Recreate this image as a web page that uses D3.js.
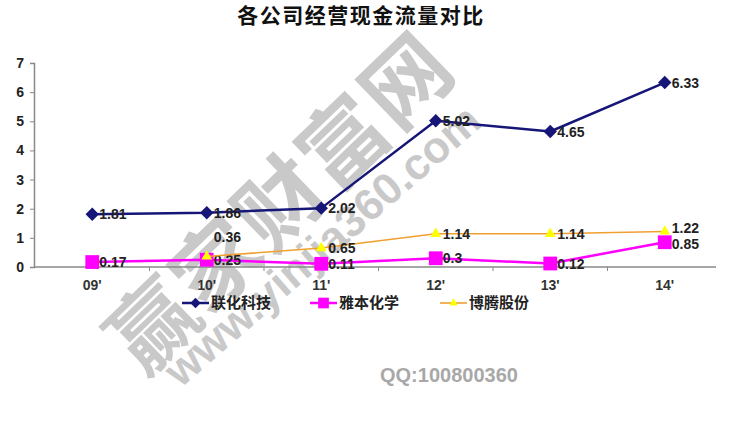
<!DOCTYPE html>
<html><head><meta charset="utf-8">
<script src="https://cdn.jsdelivr.net/npm/d3@7"></script>
<style>body{margin:0;background:#fff}svg{display:block}</style>
</head><body>
<svg id="c" width="730" height="422"></svg>
<script>
const title = "各公司经营现金流量对比";
const categories = ["09'", "10'", "11'", "12'", "13'", "14'"];
const yTicks = [0, 1, 2, 3, 4, 5, 6, 7];
const seriesNames = ["联化科技", "雅本化学", "博腾股份"];
const lianhua = [1.81, 1.86, 2.02, 5.02, 4.65, 6.33];
const yaben = [0.17, 0.25, 0.11, 0.3, 0.12, 0.85];
const boteng = [null, 0.36, 0.65, 1.14, 1.14, 1.22];
const watermark1 = "赢家财富网";
const watermark2 = "www.yinjia360.com";
const watermark3 = "QQ:100800360";

const svg = d3.select("#c");
const font = "Arial, 'Liberation Sans', 'Noto Sans CJK SC', sans-serif";
const cjk = "'Noto Sans CJK SC', sans-serif";

const x = d3.scaleBand().domain(categories).range([35, 722]);
const y = d3.scaleLinear().domain([0, 7]).range([267, 63]);
const cx = d => x(d) + x.bandwidth() / 2;

// watermark (behind)
const wm = svg.append("g").attr("fill", "#c9c9c9").attr("font-weight", "bold");
wm.append("text").attr("transform", "translate(276,198) rotate(-44)")
  .attr("text-anchor", "middle").attr("dominant-baseline", "central")
  .attr("font-family", cjk).attr("font-size", 86).attr("letter-spacing", 2).text(watermark1);
wm.append("text").attr("transform", "translate(322,245) rotate(-41)")
  .attr("text-anchor", "middle").attr("dominant-baseline", "central")
  .attr("font-family", font).attr("font-size", 44).text(watermark2);

// title
svg.append("text").attr("x", 361).attr("y", 23).attr("text-anchor", "middle")
  .attr("font-family", cjk).attr("font-weight", "bold").attr("font-size", 21)
  .attr("letter-spacing", 1.5).attr("fill", "#111").text(title);

// y axis
const yAxis = svg.append("g").attr("transform", "translate(34,0)")
  .call(d3.axisLeft(y).tickValues(yTicks).tickSize(4).tickPadding(6).tickFormat(d3.format("d")));
yAxis.select(".domain").attr("stroke", "#888").attr("stroke-width", 1.5);
yAxis.selectAll(".tick line").attr("stroke", "#888");
yAxis.selectAll("text").attr("font-family", font).attr("font-weight", "bold")
  .attr("font-size", 14).attr("fill", "#222");

// x axis
const xAxis = svg.append("g").attr("transform", "translate(0,267)")
  .call(d3.axisBottom(x).tickSize(0).tickPadding(13));
xAxis.select(".domain").attr("stroke", "#888").attr("stroke-width", 1.5)
  .attr("d", "M34,0H716");
xAxis.selectAll("text").attr("font-family", font).attr("font-weight", "bold")
  .attr("font-size", 14).attr("fill", "#333");
// category boundary ticks
svg.append("g").selectAll("line").data(categories.slice(1)).join("line")
  .attr("x1", d => x(d)).attr("x2", d => x(d)).attr("y1", 267).attr("y2", 271)
  .attr("stroke", "#888");

const series = [
  {name: seriesNames[0], values: lianhua, color: "#161679", width: 2.5, marker: "diamond", mfill: "#161679", msize: 90},
  {name: seriesNames[1], values: yaben, color: "#ff00ff", width: 2.5, marker: "square", mfill: "#ff00ff", msize: 190},
  {name: seriesNames[2], values: boteng, color: "#f0a030", width: 1.6, marker: "triangle", mfill: "#ffff00", msize: 50}
];
const sym = {diamond: d3.symbolSquare, square: d3.symbolSquare, triangle: d3.symbolTriangle};
const rot = {diamond: 45, square: 0, triangle: 0};

const line = d3.line().defined(d => d.v != null).x(d => cx(d.c)).y(d => y(d.v));

series.forEach((s, si) => {
  const pts = categories.map((c, i) => ({c, v: s.values[i], i}));
  svg.append("path").datum(pts).attr("d", line).attr("fill", "none")
    .attr("stroke", s.color).attr("stroke-width", s.width).attr("stroke-linejoin", "round");
  const valid = pts.filter(d => d.v != null);
  svg.append("g").selectAll("path").data(valid).join("path")
    .attr("transform", d => `translate(${cx(d.c)},${y(d.v)}) rotate(${rot[s.marker]})`)
    .attr("d", d3.symbol().type(sym[s.marker]).size(s.msize))
    .attr("fill", s.mfill);
  svg.append("g").selectAll("text").data(valid).join("text")
    .attr("x", d => cx(d.c) + 7)
    .attr("y", d => y(d.v) + ((si === 2 && d.i === 1) ? -20 : 0) + ((si === 2 && d.i === 5) ? -3 : 0) + ((si === 1 && d.i === 5) ? 2 : 0))
    .attr("dy", "0.36em")
    .attr("font-family", font).attr("font-weight", "bold").attr("font-size", 14)
    .attr("fill", "#222").text(d => d.v);
});

// legend
const legendX = [182, 310, 440];
series.forEach((s, i) => {
  const g = svg.append("g").attr("transform", `translate(${legendX[i]},303)`);
  g.append("line").attr("x1", 0).attr("x2", 27).attr("stroke", s.color).attr("stroke-width", s.width);
  g.append("path").attr("transform", `translate(13.5,0) rotate(${rot[s.marker]})`)
    .attr("d", d3.symbol().type(sym[s.marker]).size(s.msize * 0.6)).attr("fill", s.mfill);
  g.append("text").attr("x", 29).attr("dy", "0.36em").attr("font-family", cjk)
    .attr("font-size", 15).attr("font-weight", "bold").attr("fill", "#222").text(s.name);
});

// QQ watermark text
svg.append("text").attr("x", 380).attr("y", 382).attr("font-family", font)
  .attr("font-weight", "bold").attr("font-size", 20).attr("fill", "#a8a8a8").text(watermark3);
</script>
</body></html>
